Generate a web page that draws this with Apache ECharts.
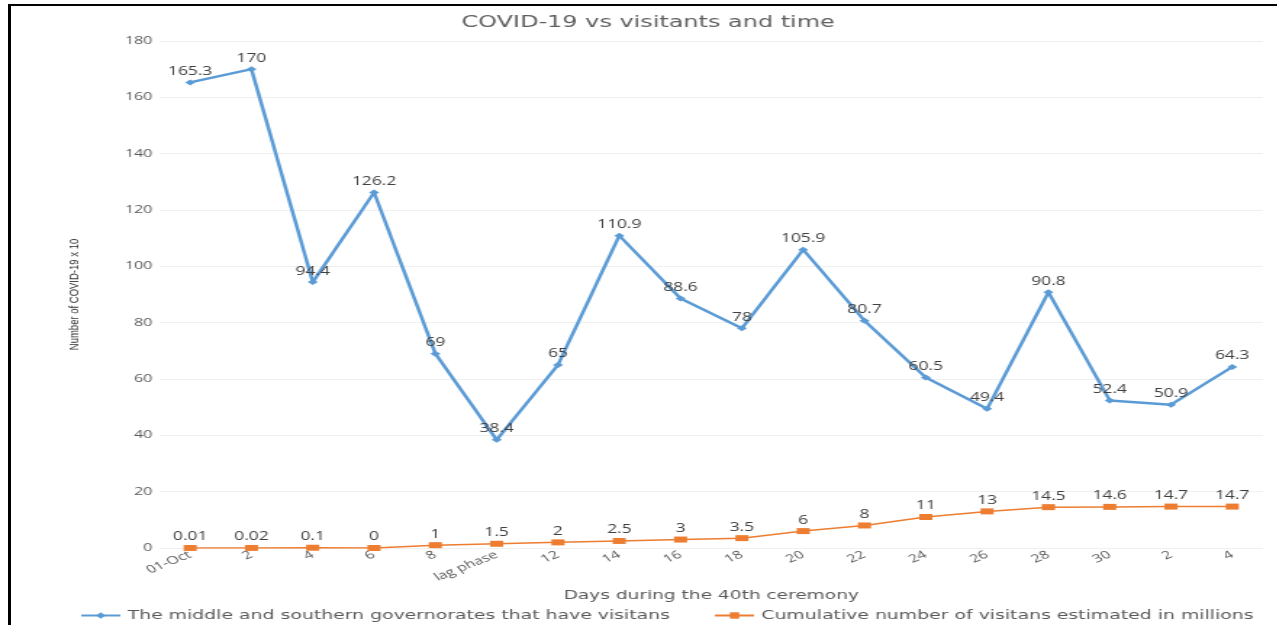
<!DOCTYPE html>
<html>
<head>
<meta charset="utf-8">
<script src="https://cdn.jsdelivr.net/npm/echarts@6/dist/echarts.min.js"></script>
<style>
  html, body { margin: 0; padding: 0; background: #fff; overflow: hidden; }
  /* the source picture is a horizontally stretched chart, so draw narrow and stretch */
  #main {
    position: absolute; left: 0; top: 0;
    width: 881px; height: 625px;
    transform: scaleX(1.45); transform-origin: 0 0;
  }
  #frame {
    position: absolute; left: 8px; top: 4px; width: 1300px; height: 640px;
    border-left: 3px solid #000; border-top: 2px solid #000;
    pointer-events: none;
  }
</style>
</head>
<body>
<div id="main"></div>
<div id="frame"></div>
<script>
var days = ["01-Oct", "2", "4", "6", "8", "lag phase", "12", "14", "16", "18",
  "20", "22", "24", "26", "28", "30", "2", "4"];
var covidCases = [165.3, 170, 94.4, 126.2, 69, 38.4, 65, 110.9, 88.6, 78,
  105.9, 80.7, 60.5, 49.4, 90.8, 52.4, 50.9, 64.3];
var visitors = [0.01, 0.02, 0.1, 0, 1, 1.5, 2, 2.5, 3, 3.5,
  6, 8, 11, 13, 14.5, 14.6, 14.7, 14.7];

var font = "'Open Sans', sans-serif";
var wideFont = "'DejaVu Sans', sans-serif";
var myChart = echarts.init(document.getElementById("main"));
var option = {
  animation: false,
  textStyle: { fontFamily: font },
  title: {
    text: "COVID-19 vs visitants and time",
    left: 442,
    top: 9,
    textAlign: "center",
    textStyle: { fontFamily: wideFont, fontSize: 16.5, fontWeight: "normal", color: "#5f5f5f" }
  },
  legend: {
    left: 50,
    top: 604,
    itemWidth: 27,
    itemHeight: 8,
    itemGap: 30,
    textStyle: { fontFamily: wideFont, fontSize: 13, color: "#595959" },
    data: [
      "The middle and southern governorates that have visitans",
      "Cumulative number of visitans estimated in millions"
    ]
  },
  grid: {
    left: 110,
    right: 10,
    top: 41,
    bottom: 77
  },
  xAxis: {
    type: "category",
    data: days,
    name: "Days during the 40th ceremony",
    nameLocation: "middle",
    nameGap: 37,
    nameTextStyle: { fontFamily: wideFont, fontSize: 12.8, color: "#595959" },
    axisLine: { show: false },
    axisTick: { show: false },
    axisLabel: { rotate: 30, interval: 0, fontSize: 11, color: "#595959", margin: 6 }
  },
  yAxis: {
    type: "value",
    min: 0,
    max: 180,
    interval: 20,
    name: "Number of COVID-19 x 10",
    nameLocation: "middle",
    nameGap: 54,
    nameTextStyle: { fontFamily: "'Liberation Sans Narrow', 'Liberation Sans', sans-serif", fontSize: 9.5, color: "#333" },
    axisLabel: { fontSize: 11, color: "#595959", margin: 5 },
    splitLine: { lineStyle: { color: "#f0f0f0" } }
  },
  series: [
    {
      name: "The middle and southern governorates that have visitans",
      type: "line",
      data: covidCases,
      color: "#5b9bd5",
      symbol: "diamond",
      symbolSize: [7, 6],
      lineStyle: { width: 2.5 },
      label: { show: true, position: "top", distance: 2, fontSize: 12, color: "#404040" }
    },
    {
      name: "Cumulative number of visitans estimated in millions",
      type: "line",
      data: visitors,
      color: "#ed7d31",
      symbol: "rect",
      symbolSize: [9, 6],
      lineStyle: { width: 1.5 },
      label: { show: true, position: "top", distance: 2, fontSize: 12, color: "#404040" }
    }
  ]
};
myChart.setOption(option);
</script>
</body>
</html>
